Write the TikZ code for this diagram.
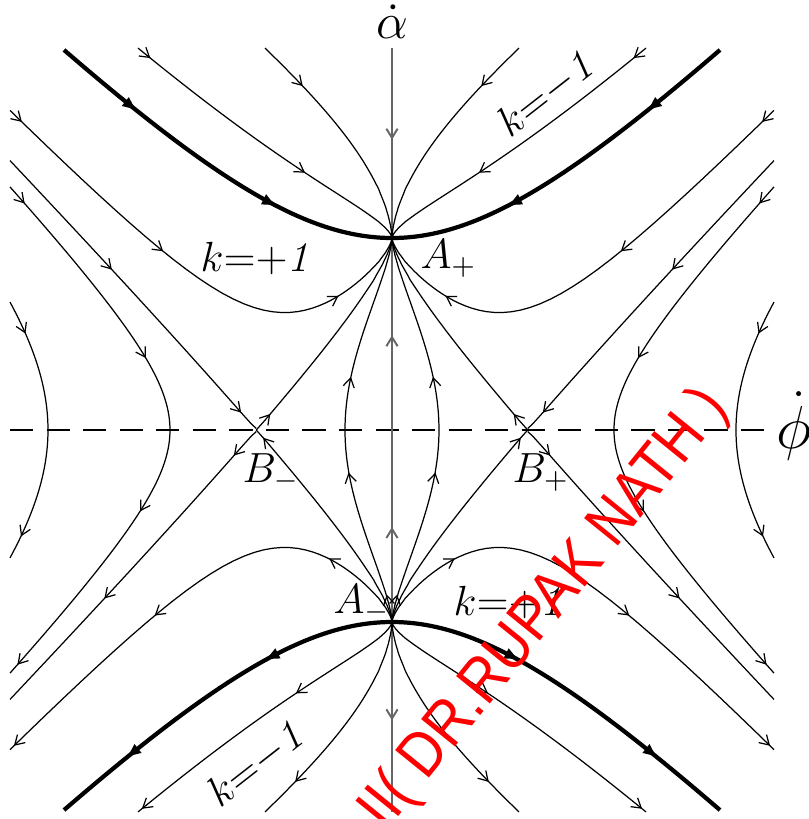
\documentclass[tikz,border=0pt]{standalone}
\usepackage{amsmath}
\usepackage{fontspec}
\newfontfamily\stampfont{Liberation Sans}
\usetikzlibrary{arrows.meta,decorations.markings}

\tikzset{
  traj/.style={line width=0.35pt},
  kzero/.style={line width=1.2pt},
  axisline/.style={line width=0.55pt, black!60},
  dashline/.style={line width=0.35pt, dash pattern=on 6.6pt off 3.8pt},
  arr/.style={postaction={decorate,decoration={markings,mark=at position #1 with {\arrow{>}}}}},
  rarr/.style={postaction={decorate,decoration={markings,mark=at position #1 with {\arrowreversed{>}}}}},
  tarr/.style={postaction={decorate,decoration={markings,mark=at position #1 with {\arrow{thk}}}}},
  fwd/.style={>={Straight Barb[length=2.6pt,width=3.2pt]}, thk/.tip={Latex[length=4.6pt,width=3.4pt]},
    nearA/.style={}},
  bwd/.style={>={Straight Barb[length=2.6pt,width=3.2pt,reversed]}, thk/.tip={Latex[length=4.6pt,width=3.4pt,reversed]},
    nearA/.style={arr=0.915}},
  lab/.style={inner sep=0pt, font=\fontsize{12}{14}\selectfont},
  axlab/.style={inner sep=0pt, font=\fontsize{#1}{19}\selectfont},
}

\begin{document}
\begin{tikzpicture}[x=1cm, y=1cm, >={Straight Barb[length=2.6pt,width=3.2pt]},
  declare function={
    hy(\x,\cc)=sqrt(abs(3.6864+\x*\x+\cc*pow(abs(\x)+0.00001,2/3)));
    hz(\x,\z)=sqrt(abs(3.6864+\x*\x-(3.6864+\z*\z)*pow(abs(\x)/\z+0.00001,2/3)));
  }]
  \useasboundingbox (-3.92,-3.89) rectangle (4.17,4.30);

  \coordinate (Ap) at (0,1.92);
  \coordinate (Am) at (0,-1.92);
  \coordinate (Bp) at (1.35765,0);
  \coordinate (Bm) at (-1.35765,0);
  \coordinate (top) at (0,3.82);
  \coordinate (bot) at (0,-3.82);
  \coordinate (left) at (-3.82,0);
  \coordinate (right) at (3.83,0);

  \draw[dashline] (left) -- (right);
  \draw[axisline, arr=0.12, rarr=0.376, rarr=0.627, arr=0.88] (top) -- (Ap) -- (Am) -- (bot);

  % the four quadrants, time reversed below
  \foreach \sx/\sy/\dir in {1/1/fwd, -1/1/fwd, 1/-1/bwd, -1/-1/bwd}{
  \begin{scope}[xscale=\sx, yscale=\sy, \dir]
    % k = 0
    \draw[kzero, tarr=0.25, tarr=0.69] plot[domain=-3.28:0, samples=60] (\x,{hy(\x,0)});
    % k = -1
    \draw[traj, arr=0.23] plot[domain=0:1, samples=50] ({-1.27*(1-\x)^3},{hy(-1.27*(1-\x)^3,7.92)});
    \draw[traj, arr=0.05, arr=0.655] plot[domain=0:1, samples=50] ({-2.54*(1-\x)^3},{hy(-2.54*(1-\x)^3,2.39)});
    % k = +1
    \draw[traj, arr=0.034, arr=0.43, arr=0.834] plot[domain=0:1, samples=60] ({-3.82*(1-\x)^3},{hy(-3.82*(1-\x)^3,-3.3)});
    % separatrices through B
    \draw[traj, arr=0.41, arr=0.94] plot[domain=-3.82:-1.35765, samples=50] (\x,{hz(\x,1.35765)});
    \draw[traj, arr=0.09] plot[domain=0:1, samples=50] ({-1.35765*(1-\x)^3},{hz(-1.35765*(1-\x)^3,1.35765)});
    % closed loops
    \draw[traj, arr=0.27, nearA] plot[domain=0:1, samples=50] ({-0.47*(1-\x*\x)^3},{hz(-0.47*(1-\x*\x)^3,0.47)});
    \draw[traj, arr=0.075, arr=0.74] plot[domain=0:1, samples=50] ({-(2.22+1.60*(1-\x)^2)},{hz(-(2.22+1.60*(1-\x)^2),2.22)});
    \draw[traj, arr=0.26] plot[domain=0:1, samples=40] ({-(3.44+0.38*(1-\x)^2)},{hz(-(3.44+0.38*(1-\x)^2),3.44)});
  \end{scope}
  }

  \node[axlab=15, anchor=base] (alab) at (0,3.92) {$\dot\alpha$};
  \node[axlab=17, anchor=base] (plab) at (4.02,-0.18) {$\dot\phi$};
  \node[lab, anchor=base west] (Apl) at (0.28,1.62) {$A_+$};
  \node[lab, anchor=base west] (Aml) at (-0.59,-1.83) {$A_-$};
  \node[lab, anchor=base west] (Bml) at (-1.50,-0.52) {$B_-$};
  \node[lab, anchor=base west] (Bpl) at (1.20,-0.52) {$B_+$};
  \node[lab, anchor=base west] (kpa) at (-1.92,1.59) {$k{=}{+}\mathit{1}$};
  \node[lab, anchor=base west] (kpb) at (0.61,-1.85) {$k{=}{+}\mathit{1}$};
  \node[lab, rotate=38] (kma) at (1.53,3.35) {$k{=}{-}\mathit{1}$};
  \node[lab, rotate=38] (kmb) at (-1.37,-3.35) {$k{=}{-}\mathit{1}$};

  \node[red, rotate=51, inner sep=0pt, font=\stampfont\fontsize{18}{18}\selectfont] (stamp) at (1.53,-1.80) {\scalebox{0.88}[1]{II( DR.RUPAK NATH )}};
\end{tikzpicture}
\end{document}
